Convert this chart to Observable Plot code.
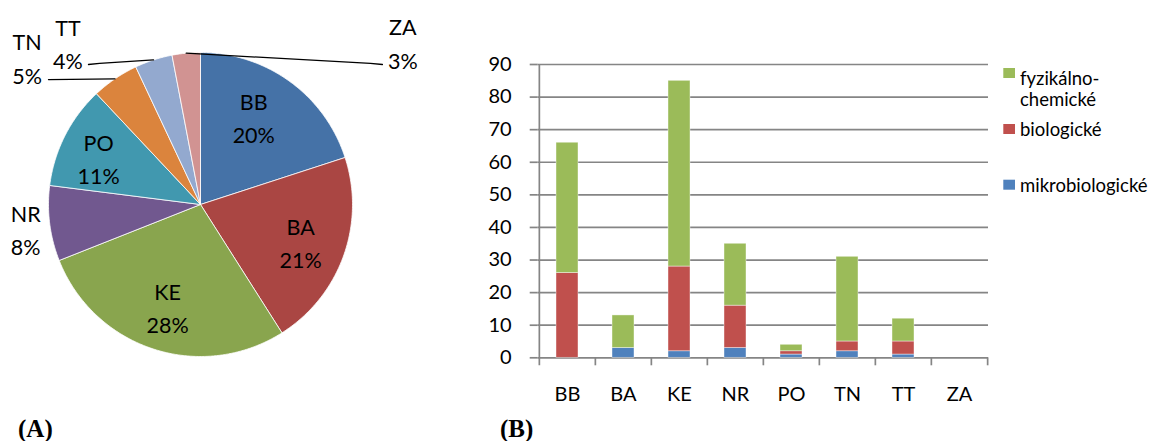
<!DOCTYPE html>
<html><head><meta charset="utf-8">
<script src="https://cdn.jsdelivr.net/npm/d3@7"></script>
<script src="https://cdn.jsdelivr.net/npm/@observablehq/plot@0.6"></script>
<style>
html,body{margin:0;padding:0;background:#fff;}
#wrap{position:relative;width:1159px;height:441px;overflow:hidden;font-family:Lato,sans-serif;}
#wrap > *{position:absolute;}
</style></head><body><div id="wrap"></div>
<script>
// ---- data ----
const regions = ["BB","BA","KE","NR","PO","TN","TT","ZA"];
const pieShares = [20,21,28,8,11,5,4,3];
const pieColors = ["#4572A7","#AA4643","#89A54E","#71588F","#4198AF","#DB843D","#93A9CF","#D19392"];
const seriesNames = ["mikrobiologické","biologické","fyzikálno-chemické"];
const mikro = [0,3,2,3,1,2,1,0];
const bio   = [26,0,26,13,1,3,4,0];
const fyz   = [40,10,57,19,2,26,7,0];
const seriesColors = ["#4F81BD","#C0504D","#9BBB59"];
const yTicks = [0,10,20,30,40,50,60,70,80,90];

const wrap = document.getElementById("wrap");
const FONT = "Lato, sans-serif";

// ---- pie (A) ----
const W = 440, H = 420, cx = 200, cy = 204, R = 152;
const arcs = d3.pie().sort(null).value(d => d)(pieShares);
const slices = arcs.map((a, i) => {
  const pts = [{x: 0, y: 0}];
  const n = Math.max(4, Math.ceil((a.endAngle - a.startAngle) / 0.01));
  for (let k = 0; k <= n; k++) {
    const t = a.startAngle + (a.endAngle - a.startAngle) * k / n;
    pts.push({x: Math.sin(t), y: Math.cos(t)});
  }
  pts.push({x: 0, y: 0});
  return {name: regions[i], share: pieShares[i], color: pieColors[i], pts, mid: (a.startAngle + a.endAngle) / 2};
});
// label placement: [radius factor, angle in degrees (null = slice middle)]
const labelPlace = {BB:[0.68,31], BA:[0.70,null], KE:[0.70,null], NR:[1.16,262.5], PO:[0.74,295], TN:[1.50,310.5], TT:[1.38,320.8], ZA:[1.71,51.1]};
const labels = slices.map(s => {
  const [rf, ang] = labelPlace[s.name];
  const t = ang == null ? s.mid : ang * Math.PI / 180;
  return {x: rf * Math.sin(t), y: rf * Math.cos(t), text: s.name + "\n" + s.share + "%"};
});
// leader line knees / ends (unit coordinates)
const leaderPath = {TN: [[-1.0, 0.822]], TT: [[-0.664, 0.928], [-0.737, 0.921]], ZA: [[1.118, 0.928], [1.197, 0.921]]};
const leaders = [];
slices.forEach(s => {
  if (!leaderPath[s.name]) return;
  leaders.push({name: s.name, x: Math.sin(s.mid), y: Math.cos(s.mid)});
  leaderPath[s.name].forEach(([x, y]) => leaders.push({name: s.name, x, y}));
});

const pie = Plot.plot({
  width: W, height: H, margin: 0,
  x: {domain: [-cx / R, (W - cx) / R], axis: null},
  y: {domain: [-(H - cy) / R, cy / R], axis: null},
  style: {fontFamily: FONT, background: "transparent"},
  marks: [
    ...slices.map(s => Plot.line(s.pts, {x: "x", y: "y", fill: s.color, stroke: "white", strokeWidth: 0.8, strokeLinejoin: "round"})),
    Plot.line(leaders, {x: "x", y: "y", z: "name", stroke: "black", strokeWidth: 1.3, curve: "linear"}),
    Plot.text(labels, {x: "x", y: "y", text: "text", fontSize: 21.5, lineHeight: 1.55, fill: "black", fontFamily: FONT})
  ]
});
pie.style.left = "0px"; pie.style.top = "0px";
wrap.appendChild(pie);

// ---- stacked bars (B) ----
const BW = 520, BH = 380, mL = 57.7, mR = 12, mT = 24, mB = 62.7;
const seriesValues = [mikro, bio, fyz];
const barData = [];
seriesNames.forEach((s, j) => regions.forEach((r, i) => barData.push({region: r, series: s, value: seriesValues[j][i]})));
const step = (BW - mL - mR) / regions.length;
const yMax = yTicks[yTicks.length - 1];
const pxPerUnit = (BH - mT - mB) / yMax;
const tickUnits = 8 / pxPerUnit;
const GRID = "#858585";

const bars = Plot.plot({
  width: BW, height: BH, marginLeft: mL, marginRight: mR, marginTop: mT, marginBottom: mB,
  x: {domain: regions, paddingInner: 0.6, paddingOuter: 0.3, axis: null},
  y: {domain: [0, yMax], axis: null},
  color: {domain: seriesNames, range: seriesColors},
  style: {fontFamily: FONT, background: "transparent"},
  marks: [
    Plot.ruleY(yTicks, {y: d => d, stroke: GRID, strokeWidth: 1.7}),
    Plot.axisY({ticks: yTicks, tickSize: 8, tickPadding: 18.5, stroke: GRID, strokeWidth: 1.7, fill: "black", fontSize: 20, fontFamily: FONT, label: null}),
    Plot.barY(barData, {x: "region", y: "value", fill: "series", stroke: "white", strokeOpacity: 0.6, strokeWidth: 0.7}),
    Plot.ruleX(regions, {x: d => d, dx: -step / 2, y1: (d, i) => i === 0 ? yMax : 0, y2: -tickUnits, stroke: GRID, strokeWidth: 1.7}),
    Plot.ruleX([regions[regions.length - 1]], {x: d => d, dx: step / 2, y1: 0, y2: -tickUnits, stroke: GRID, strokeWidth: 1.7}),
    Plot.axisX({tickSize: 0, tickPadding: 29, fill: "black", fontSize: 20, fontFamily: FONT, label: null})
  ]
});
bars.style.left = "480px"; bars.style.top = "40px";
wrap.appendChild(bars);

// ---- legend and panel captions ----
const legendOrder = [2, 1, 0];
const legendBaselines = [84.5, 136, 191.7];
const svg = d3.create("svg").attr("width", 1159).attr("height", 441)
  .style("left", "0px").style("top", "0px").style("pointer-events", "none");
legendOrder.forEach((j, k) => {
  const base = legendBaselines[k];
  svg.append("rect").attr("x", 1003.3).attr("y", k === 0 ? base - 16.5 : base - 12).attr("width", 11.7).attr("height", 10).attr("fill", seriesColors[j]);
  const name = seriesNames[j];
  const parts = name.includes("-") ? [name.slice(0, name.indexOf("-") + 1), name.slice(name.indexOf("-") + 1)] : [name];
  const t = svg.append("text").attr("x", 1020).attr("y", base).attr("font-family", FONT).attr("font-size", 18.5).attr("fill", "black");
  parts.forEach((p, m) => t.append("tspan").attr("x", 1020).attr("dy", m === 0 ? 0 : 21.5).text(p));
});
svg.append("text").attr("x", 18).attr("y", 437).attr("font-family", "Liberation Serif, serif").attr("font-weight", "bold").attr("font-size", 25).text("(A)");
svg.append("text").attr("x", 500).attr("y", 437).attr("font-family", "Liberation Serif, serif").attr("font-weight", "bold").attr("font-size", 25).text("(B)");
wrap.appendChild(svg.node());
</script>
</body></html>
